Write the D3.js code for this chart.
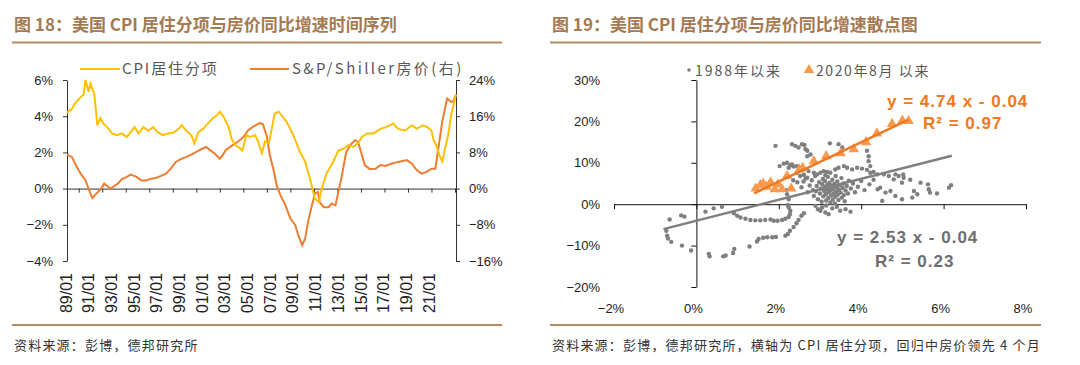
<!DOCTYPE html>
<html>
<head>
<meta charset="utf-8">
<script src="https://cdn.jsdelivr.net/npm/d3@7"></script>
<style>
body { margin: 0; background: #fff; }
text { font-family: "Liberation Sans", Arial, sans-serif; }
.cjk { font-family: "Noto Sans CJK SC", sans-serif; }
</style>
</head>
<body>
<div class="canva"></div>
<script>
// ---- Fig 18 data (YoY %) ----
const cpiMonths = ['1989-01','1989-06','1989-09','1990-02','1990-06','1990-08','1990-11','1991-01','1991-05','1991-08','1991-11',
  '1992-02','1992-06','1992-11','1993-04','1993-09','1994-02','1994-05','1994-10','1995-02','1995-07','1995-12','1996-05','1996-10',
  '1997-03','1997-08','1998-02','1998-07','1998-10','1999-03','1999-08','1999-11','2000-03','2000-08','2001-01','2001-06','2001-10',
  '2002-01','2002-05','2002-10','2003-01','2003-05','2003-08','2003-12','2004-04','2004-08','2005-01','2005-04','2005-08','2005-11',
  '2006-03','2006-06','2006-09','2007-01','2007-09','2008-04','2008-11','2009-04','2009-09','2010-02','2010-06','2010-09','2011-02',
  '2011-07','2012-02','2012-07','2012-12','2013-05','2013-10','2014-02','2014-07','2015-02','2015-09','2016-03','2016-10','2017-03',
  '2017-10','2018-05','2018-10','2019-04','2019-09','2020-01','2020-03','2020-06','2020-09','2020-12','2021-02','2021-06','2021-09','2022-02'];
const cpiValues = [4.2,4.4,4.7,5.0,5.2,6.0,5.35,5.8,5.2,3.5,3.9,
  3.6,3.4,3.05,2.95,3.05,2.85,3.05,3.4,3.05,3.4,3.2,3.4,3.1,
  2.95,3.05,3.1,3.3,3.5,3.2,2.95,2.5,3.1,3.3,3.6,3.9,4.05,
  4.25,3.95,3.4,2.75,2.4,2.3,2.1,2.95,2.85,2.95,2.6,1.95,2.6,
  2.5,3.3,4.15,4.25,3.7,2.95,2.0,1.5,0.55,-0.55,-0.75,0,0.85,
  1.3,2.1,2.2,2.4,2.3,2.5,2.85,3.05,3.05,3.3,3.4,3.6,3.3,
  3.2,3.5,3.3,3.5,3.4,3.2,2.7,2.4,1.85,1.5,2.0,2.95,4.05,5.2];

const hpiMonths = ['1989-01','1989-06','1989-10','1990-03','1990-08','1990-11','1991-03','1991-07','1991-12','1992-03','1992-07',
  '1992-10','1993-02','1993-05','1993-09','1994-02','1994-06','1994-12','1995-05','1995-10','1996-03','1996-08','1997-01','1997-06',
  '1997-11','1998-04','1998-09','1999-03','1999-08','2000-01','2000-06','2000-11','2001-03','2001-08','2002-01','2002-04','2002-07',
  '2003-02','2003-07','2004-01','2004-06','2004-11','2005-06','2005-09','2006-01','2006-04','2006-08','2006-11','2007-03','2007-08',
  '2008-01','2008-06','2008-09','2009-01','2009-04','2009-07','2009-11','2010-02','2010-05','2010-07','2010-11','2011-04','2011-07',
  '2011-11','2012-02','2012-05','2012-10','2013-02','2013-07','2013-10','2014-02','2014-05','2014-10','2015-04','2015-09','2016-02',
  '2016-08','2017-03','2017-12','2018-05','2018-10','2019-03','2019-08','2020-01','2020-05','2020-08','2020-12','2021-05','2021-09',
  '2021-11','2022-02'];
const hpiValues = [7.5,7.0,5.2,3.3,1.8,0,-2.1,-1.1,0,1.1,0.4,
  0,0.7,1.1,2.1,2.6,3.1,2.6,1.8,1.8,2.2,2.4,2.8,3.3,
  4.4,5.9,6.5,7.0,7.5,8.1,8.7,9.2,8.5,7.7,6.6,7.4,8.5,
  9.6,10.3,11.4,12.9,13.7,14.5,14.2,11.5,7.4,4.0,0.7,-1.5,-3.7,
  -6.6,-8.1,-10.3,-12.5,-11.1,-7.4,-3.7,-1.1,-0.7,-3.0,-4.1,-4.1,-3.3,
  -3.7,-0.7,2.2,8.1,9.6,10.7,10.3,7.4,5.2,4.3,4.4,5.2,5.0,
  5.5,5.9,6.3,5.5,4.1,3.3,3.7,4.4,4.4,8.9,14.8,19.9,19.2,
  19.2,20.7];

const leftTicks = [-4,-2,0,2,4,6];
const rightTicks = [-16,-8,0,8,16,24];
const dateLabels = ['89/01','91/01','93/01','95/01','97/01','99/01','01/01','03/01','05/01',
  '07/01','09/01','11/01','13/01','15/01','17/01','19/01','21/01'];

// ---- Fig 19 data: [CPI shelter %, house price % (4m lead)] ----
const grayPoints = [
  [-0.65,-3.7],[-0.73,-6.4],[-0.71,-7.6],[-0.69,-8.3],[-0.61,-9.1],[-0.35,-10.0],[-0.13,-11.2],[-0.37,-2.7],[-0.29,-3.0],
  [0.22,-1.8],[0.42,-1.0],[0.62,-0.6],
  [0.30,-12.0],[0.32,-12.6],[0.65,-12.6],[0.71,-12.4],[0.89,-11.8],[0.92,-10.8],[1.29,-10.2],[1.47,-9.0],[1.51,-8.4],
  [1.62,-8.1],[1.72,-8.0],[1.84,-8.0],[1.93,-7.9],[2.16,-7.6],[2.22,-7.2],[2.27,-6.4],[2.36,-5.5],[2.43,-4.6],[2.48,-3.8],
  [2.55,-2.8],[2.61,-2.2],
  [0.91,-2.2],[0.99,-2.8],[1.07,-3.2],[1.19,-3.5],[1.31,-3.8],[1.43,-3.9],[1.55,-3.9],[1.67,-3.8],[1.80,-3.7],[1.88,-4.0],
  [1.97,-4.0],[2.08,-3.8],[2.16,-3.5],[2.24,-3.1],[2.27,-2.4],[2.28,-1.6],[2.24,-0.8],[2.22,-0.2],
  [2.20,2.4],[2.24,1.2],[2.18,3.4],
  [1.92,14.1],[2.02,9.2],[2.12,9.8],[2.20,10.0],[2.24,8.8],[2.32,9.6],[2.32,14.5],[2.40,14.1],[2.48,13.7],[2.56,14.5],
  [2.62,14.3],[2.65,13.3],[2.69,12.9],[2.77,12.0],[2.69,11.6],[3.24,14.7],[3.45,14.5],[3.54,13.7],[4.14,12.9],[4.18,11.6],
  [4.18,10.4],[4.22,9.2],
  [2.44,7.6],[2.52,6.8],[2.61,7.1],[2.69,6.4],
  [2.28,9.4],[2.36,9.1],[2.44,9.2],[2.52,8.6],[2.60,8.4],[2.72,8.0],[2.85,7.6],[2.93,7.2],[3.01,7.6],[3.09,8.0],[3.17,7.8],
  [3.25,7.6],[3.37,8.4],[3.45,8.8],[3.58,9.2],[3.66,8.8],[3.78,8.4],[3.90,8.8],[4.02,8.6],[4.14,8.3],[4.22,7.6],[4.30,7.8],
  [4.39,7.2],[4.55,7.2],[4.67,6.8],[4.79,6.0],[4.91,6.8],[4.99,5.2],
  [4.83,7.2],[5.02,7.2],[5.03,6.4],[5.19,5.9],[5.44,5.2],[5.62,4.8],[5.64,3.6],[5.67,2.8],[5.84,2.6],[6.13,4.0],[6.18,4.6],
  [5.28,3.2],[5.36,2.4],[5.24,1.6],[4.99,1.2],[4.51,0.8],[4.46,4.0],[4.59,2.8],[4.71,3.2],[4.83,2.0],
  [2.89,-0.4],[3.01,-1.6],[3.13,-2.0],[3.21,-2.4],[3.41,-0.6],[3.49,-1.6],[3.62,-1.2],[3.74,-1.8],[3.05,-0.8],[3.30,-1.0],
  [2.95,-1.2],[3.15,-0.3],
  [2.85,2.0],[2.90,3.1],[2.92,4.4],[2.95,1.2],[2.98,5.3],[3.00,2.6],[3.02,3.8],[3.04,0.6],[3.05,4.9],[3.07,6.1],[3.08,1.9],
  [3.10,3.2],[3.11,4.2],[3.12,5.6],[3.14,2.4],[3.15,0.9],[3.16,3.6],[3.18,4.8],[3.19,6.6],[3.20,1.5],[3.21,2.9],[3.22,4.0],
  [3.23,5.2],[3.25,0.4],[3.26,3.3],[3.27,2.1],[3.28,4.5],[3.30,5.9],[3.31,1.1],[3.32,3.7],[3.33,2.6],[3.35,4.9],[3.36,0.2],
  [3.37,1.8],[3.39,3.0],[3.40,4.1],[3.42,5.5],[3.43,2.3],[3.45,1.0],[3.46,3.5],[3.48,4.6],[3.50,2.8],[3.52,6.3],[3.53,1.6],
  [3.55,3.9],[3.57,5.0],[3.58,2.2],[3.60,0.7],[3.62,3.3],[3.65,4.4],[3.68,2.6],[3.70,5.7],[2.80,5.8],[2.83,3.4],[2.88,6.8],
  [2.75,4.5],[2.70,2.9],[3.13,7.0],[3.38,6.8],[3.75,3.8],[3.80,5.0],[3.85,2.9],[3.92,4.2],[4.00,5.6],[4.08,3.4],[4.20,4.8],
  [4.30,5.9],[4.40,3.6],[2.60,5.5],[2.55,4.1],[2.65,6.2],[2.45,5.3],[2.35,5.8]
];
const orangePoints = [
  [1.44,3.8],[1.55,4.6],[1.62,5.0],[1.70,4.2],[1.80,5.3],[1.90,3.6],[1.98,4.8],[2.08,3.6],[2.20,6.8],[2.30,3.8],
  [2.50,8.4],[2.58,8.8],[2.85,10.4],[3.15,11.6],[3.50,12.3],[3.82,13.3],[4.12,15.0],[4.38,17.1],[4.75,19.4],[5.00,20.2],[5.15,20.1]
];
// trend lines as printed on the chart (decimal form), and the x span they cover in %
const fitOrange = { slope: 4.74, intercept: -0.04, r2: 0.97, from: 1.4, to: 5.15 };
const fitGray = { slope: 2.53, intercept: -0.04, r2: 0.23, from: -0.8, to: 6.2 };
const scatterXTicks = [-2,0,2,4,6,8];
const scatterYTicks = [-20,-10,0,10,20,30];

const YELLOW = '#FFC000', ORANGE = '#ED7D31', BROWN = '#A47A52', RULE = '#B58A62';
const GRAY = '#7F7F7F', AXIS = '#333';

const svg = d3.select('.canva').append('svg')
  .attr('width', 1080).attr('height', 365);

// ---- headers / footers ----
function frame(x0, x1, title, source) {
  svg.append('text').attr('class', 'cjk').attr('x', x0 + 2).attr('y', 31)
    .attr('font-size', 17).attr('font-weight', 'bold').attr('fill', BROWN).text(title);
  svg.append('line').attr('x1', x0).attr('x2', x1).attr('y1', 42.5).attr('y2', 42.5)
    .attr('stroke', RULE).attr('stroke-width', 2);
  svg.append('line').attr('x1', x0).attr('x2', x1).attr('y1', 325).attr('y2', 325)
    .attr('stroke', RULE).attr('stroke-width', 2);
  svg.append('text').attr('class', 'cjk').attr('x', x0 + 2).attr('y', 350)
    .attr('font-size', 13).attr('letter-spacing', 1.2).attr('fill', '#333').text(source);
}
frame(12, 502, '图 18：美国 CPI 居住分项与房价同比增速时间序列', '资料来源：彭博，德邦研究所');
frame(550, 1041, '图 19：美国 CPI 居住分项与房价同比增速散点图', '资料来源：彭博，德邦研究所，横轴为 CPI 居住分项，回归中房价领先 4 个月');

// ---- Fig 18: time series ----
const parse = d3.timeParse('%Y-%m');
const x = d3.scaleTime().domain([parse('1989-01'), parse('2022-02')]).range([67, 456]);
const yL = d3.scaleLinear().domain([-4, 6]).range([261, 80]);
const yR = d3.scaleLinear().domain([-16, 24]).range([261, 80]);
const labelX = d3.scalePoint().domain(dateLabels).range([66, 429]);

const left = svg.append('g');

left.append('g').attr('transform', 'translate(67,0)')
  .call(d3.axisLeft(yL).tickValues(leftTicks).tickSize(4).tickSizeOuter(0).tickFormat(''))
  .call(g => g.selectAll('path,line').attr('stroke', AXIS));
left.append('g').attr('transform', 'translate(456,0)')
  .call(d3.axisRight(yR).tickValues(rightTicks).tickSize(4).tickSizeOuter(0).tickFormat(''))
  .call(g => g.selectAll('path,line').attr('stroke', AXIS));
left.append('g').attr('transform', `translate(0,${yL(0)})`)
  .call(d3.axisBottom(x).ticks(d3.timeYear.every(2)).tickSize(4).tickSizeOuter(0).tickFormat(''))
  .call(g => g.selectAll('path,line').attr('stroke', AXIS));

left.selectAll('.ly').data(leftTicks).enter().append('text')
  .attr('x', 53).attr('y', d => yL(d)).attr('dy', '0.35em').attr('text-anchor', 'end')
  .attr('font-size', 13).attr('fill', '#222')
  .text(d => (d < 0 ? '\u2212' + (-d) : d) + '%');
left.selectAll('.ry').data(rightTicks).enter().append('text')
  .attr('x', 469).attr('y', d => yR(d)).attr('dy', '0.35em')
  .attr('font-size', 13).attr('fill', '#222')
  .text(d => (d < 0 ? '\u2212' + (-d) : d) + '%');
left.selectAll('.xl').data(dateLabels).enter().append('text')
  .attr('transform', d => `translate(${labelX(d)},273) rotate(-90)`)
  .attr('text-anchor', 'end').attr('dy', '0.35em')
  .attr('font-size', 16).attr('fill', '#222').text(d => d);

const cpi = cpiMonths.map((m, i) => ({ date: parse(m), v: cpiValues[i] }));
const hpi = hpiMonths.map((m, i) => ({ date: parse(m), v: hpiValues[i] }));

left.append('path').datum(hpi)
  .attr('fill', 'none').attr('stroke', ORANGE).attr('stroke-width', 2)
  .attr('d', d3.line().x(d => x(d.date)).y(d => yR(d.v)));
left.append('path').datum(cpi)
  .attr('fill', 'none').attr('stroke', YELLOW).attr('stroke-width', 2)
  .attr('d', d3.line().x(d => x(d.date)).y(d => yL(d.v)));

// legend
left.append('line').attr('x1', 80).attr('x2', 120).attr('y1', 69).attr('y2', 69)
  .attr('stroke', YELLOW).attr('stroke-width', 2);
left.append('text').attr('class', 'cjk').attr('x', 122).attr('y', 74)
  .attr('font-size', 15).attr('letter-spacing', 1.9).attr('fill', '#595959').text('CPI居住分项');
left.append('line').attr('x1', 250).attr('x2', 289).attr('y1', 69).attr('y2', 69)
  .attr('stroke', ORANGE).attr('stroke-width', 2);
left.append('text').attr('class', 'cjk').attr('x', 292).attr('y', 74)
  .attr('font-size', 15).attr('letter-spacing', 2.4).attr('fill', '#595959').text('S&P/Shiller房价(右)');

// ---- Fig 19: scatter ----
const sx = d3.scaleLinear().domain([-2, 8]).range([614, 1026]);
const sy = d3.scaleLinear().domain([-20, 30]).range([287, 80]);
const right = svg.append('g');

right.append('g').attr('transform', `translate(${sx(0)},0)`)
  .call(d3.axisLeft(sy).tickValues(scatterYTicks).tickSize(5).tickSizeOuter(0).tickFormat(''))
  .call(g => g.selectAll('path,line').attr('stroke', '#111'));
right.append('g').attr('transform', `translate(0,${sy(0)})`)
  .call(d3.axisBottom(sx).tickValues(scatterXTicks).tickSize(5).tickSizeOuter(0).tickFormat(''))
  .call(g => g.selectAll('path,line').attr('stroke', '#111'));

right.selectAll('.sy').data(scatterYTicks).enter().append('text')
  .attr('x', 600).attr('y', d => sy(d)).attr('dy', '0.35em').attr('text-anchor', 'end')
  .attr('font-size', 13).attr('fill', '#222')
  .text(d => (d < 0 ? '\u2212' + (-d) : d) + '%');
right.selectAll('.sx').data(scatterXTicks).enter().append('text')
  .attr('x', d => sx(d) - 3).attr('y', 313).attr('text-anchor', 'middle')
  .attr('font-size', 13).attr('fill', '#222')
  .text(d => (d < 0 ? '\u2212' + (-d) : d) + '%');

right.selectAll('circle.g').data(grayPoints).enter().append('circle')
  .attr('cx', d => sx(d[0])).attr('cy', d => sy(d[1])).attr('r', 2.2).attr('fill', GRAY);

const fitLine = f => [f.from, f.to].map(v => [v, (f.slope * v / 100 + f.intercept) * 100]);
right.append('path').datum(fitLine(fitGray))
  .attr('stroke', '#7F7F7F').attr('stroke-width', 2.5).attr('fill', 'none')
  .attr('d', d3.line().x(d => sx(d[0])).y(d => sy(d[1])));

const tri = d3.symbol().type(d3.symbolTriangle).size(48);
right.selectAll('path.t').data(orangePoints).enter().append('path')
  .attr('transform', d => `translate(${sx(d[0])},${sy(d[1])})`)
  .attr('d', tri).attr('fill', '#F79A4E');

right.append('path').datum(fitLine(fitOrange))
  .attr('stroke', '#F07820').attr('stroke-width', 2.5).attr('fill', 'none')
  .attr('d', d3.line().x(d => sx(d[0])).y(d => sy(d[1])));

// equations
const fmt = d3.format('.2f');
const eq = (xp, yp, color, txt) => right.append('text').attr('x', xp).attr('y', yp)
  .attr('font-size', 17).attr('font-weight', 'bold').attr('letter-spacing', 1)
  .attr('fill', color).text(txt);
eq(887, 107, '#F07820', `y = ${fmt(fitOrange.slope)} x - ${fmt(-fitOrange.intercept)}`);
eq(923, 129, '#F07820', `R² = ${fmt(fitOrange.r2)}`);
eq(837, 243, '#6E6E6E', `y = ${fmt(fitGray.slope)} x - ${fmt(-fitGray.intercept)}`);
eq(875, 267, '#6E6E6E', `R² = ${fmt(fitGray.r2)}`);

// legend
right.append('circle').attr('cx', 689).attr('cy', 70).attr('r', 1.8).attr('fill', GRAY);
right.append('text').attr('class', 'cjk').attr('x', 695).attr('y', 76)
  .attr('font-size', 14).attr('letter-spacing', 2).attr('fill', '#595959').text('1988年以来');
right.append('path').attr('transform', 'translate(809,70)')
  .attr('d', tri).attr('fill', '#F79A4E');
right.append('text').attr('class', 'cjk').attr('x', 816).attr('y', 76)
  .attr('font-size', 14).attr('letter-spacing', 1.6).attr('fill', '#595959').text('2020年8月 以来');
</script>
</body>
</html>
